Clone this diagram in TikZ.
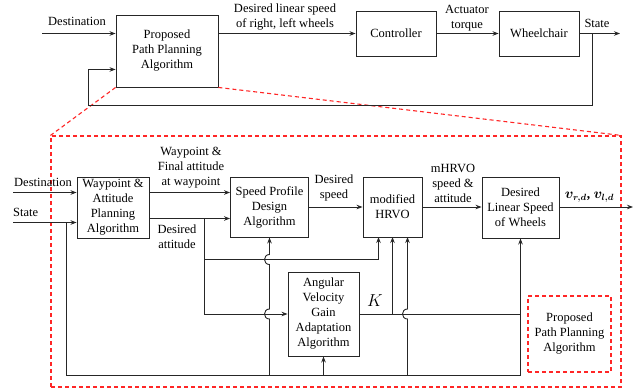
\documentclass[tikz,border=0pt]{standalone}
\usepackage{amsmath}
\usepackage{fontspec}
\setmainfont{Liberation Serif}
\usetikzlibrary{arrows.meta,calc}
\begin{document}
\begin{tikzpicture}[x=1pt,y=-1pt,
  font=\fontsize{12.5}{15}\selectfont,
  blk/.style={draw=black!85, line width=0.9pt, align=center, inner sep=1pt},
  wire/.style={draw=black!85, line width=0.9pt},
  arr/.style={wire, -{Stealth[length=6pt,width=4.5pt]}},
  lbl/.style={align=center, inner sep=0pt},
  reddash/.style={draw=red!85, line width=1.1pt, dash pattern=on 4pt off 3pt}]
\useasboundingbox (0,0) rectangle (642,389);

% ---------- top loop ----------
\node[blk, minimum width=102pt, minimum height=72pt] (ppa) at (167,51) {Proposed\\Path Planning\\Algorithm};
\node[blk, minimum width=80pt, minimum height=45pt] (ctrl) at (396,33.5) {Controller};
\node[blk, minimum width=80pt, minimum height=45pt] (wc) at (539,33.5) {Wheelchair};

% ---------- zoomed frame ----------
\node[reddash, minimum width=570pt, minimum height=251pt, inner sep=0pt] (zoom) at (336,261.5) {};
\draw[reddash] (ppa.south west) -- (zoom.north west);
\draw[reddash] (ppa.south east) -- (zoom.north east);
\node[reddash, minimum width=83pt, minimum height=76pt, align=center, inner sep=0pt] (sppa) at (569.5,334) {Proposed\\Path Planning\\Algorithm};

\coordinate (tin) at (42,33.5);
\coordinate (tout) at (620,33.5);
\coordinate (fb) at (592.5,33.5);
\coordinate (fbb) at (88.5,105.5);
\coordinate (fin) at ($(ppa.south west)+(0,-18)$);
\draw[arr] (tin) -- (tin -| ppa.west);
\draw[arr] (ppa.east |- ctrl.west) -- (ctrl.west);
\draw[arr] (ctrl.east) -- (wc.west);
\draw[arr] (wc.east) -- (tout);
\draw[arr] (fb) |- (fbb) |- (fin);

\node[lbl] (tdest) at (77,21) {Destination};
\node[lbl] (tdls) at (285,17.5) {Desired linear speed\\of right, left wheels};
\node[lbl] (tact) at (467,18) {Actuator\\torque};
\node[lbl] (tstate) at (597,23) {State};

% ---------- inner diagram ----------
\node[blk, minimum width=72pt, minimum height=61pt] (wap) at (113,207.5) {Waypoint \&\\Attitude\\Planning\\Algorithm};
\node[blk, minimum width=78pt, minimum height=60pt] (spd) at (269.5,207) {Speed Profile\\Design\\Algorithm};
\node[blk, minimum width=59pt, minimum height=60pt] (hrvo) at (392.5,207) {modified\\HRVO};
\node[blk, minimum width=77pt, minimum height=61pt] (dls) at (520.5,207.5) {Desired\\Linear Speed\\of Wheels};
\node[blk, minimum width=71pt, minimum height=84pt] (avg) at (323.5,314) {Angular\\Velocity\\Gain\\Adaptation\\Algorithm};

\coordinate (dst2) at (13,192.5);
\coordinate (st2) at (13,222.5);
\coordinate (busL) at (66.5,375.5);
\coordinate (busR) at (dls.south |- busL);
\coordinate (wy) at (0,192.5);
\coordinate (ay) at (0,218.5);
\coordinate (br) at (204.5,218.5);
\coordinate (r259) at (0,259.5);
\coordinate (hin1) at (378.5,237);
\coordinate (hin2) at (392.5,237);
\coordinate (hin3) at (407.5,237);
\coordinate (vout) at (633,207);

\draw[arr] (dst2) -- (dst2 -| wap.west);
\draw[arr] (st2) -- (st2 -| wap.west);
\draw[arr] (st2 -| busL) |- (busR) -- (dls.south);
\draw[arr] (wap.east |- wy) -- (spd.west |- wy);
\draw[arr] (wap.east |- ay) -- (spd.west |- ay);
\draw[arr] (br) |- (hin1 |- r259) -- (hin1);
\draw[arr] (br) |- (avg.west);
\draw[arr] (spd.south |- busL) -- (269.5,319) .. controls (262.83,319) and (262.83,309) .. (269.5,309)
  -- (269.5,264.5) .. controls (262.83,264.5) and (262.83,254.5) .. (269.5,254.5) -- (spd.south);
\draw[arr] (hin3 |- busL) -- (407.5,319) .. controls (400.83,319) and (400.83,309) .. (407.5,309) -- (hin3);
\draw[arr] (avg.south |- busL) -- (avg.south);
\draw[wire] (avg.east) -- (avg.east -| busR);
\draw[arr] (hin2 |- avg.east) -- (hin2);
\draw[arr] (spd.east) -- (hrvo.west);
\draw[arr] (hrvo.east) -- (dls.west |- hrvo.east);
\draw[arr] (dls.east |- vout) -- (vout);

\node[lbl] (ldest) at (43,182) {Destination};
\node[lbl, anchor=west] (lstate) at (13,212) {State};
\node[lbl] (lwp) at (191,168) {Waypoint \&\\Final attitude\\at waypoint};
\node[lbl] (latt) at (177,236.5) {Desired\\attitude};
\node[lbl] (lspd) at (334,187.5) {Desired\\speed};
\node[lbl] (lmh) at (453,183) {mHRVO\\speed \&\\attitude};
\node[lbl, font=\fontsize{13.5}{16}\selectfont] (lv) at (589.5,197) {$\boldsymbol{v_{r,d}}$\textbf{,} $\boldsymbol{v_{l,d}}$};
\node[lbl, font=\fontsize{16}{19}\selectfont] (lk) at (375,301) {$K$};
\end{tikzpicture}
\end{document}
